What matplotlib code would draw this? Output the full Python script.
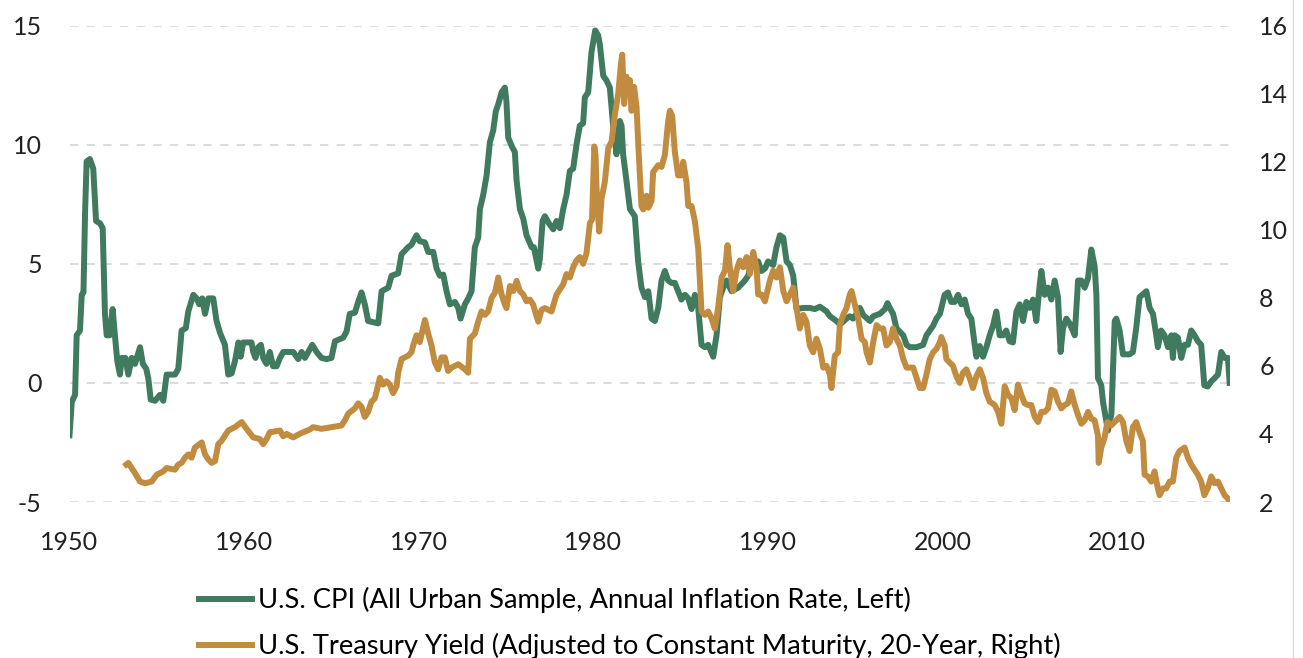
import matplotlib.pyplot as plt
from matplotlib.lines import Line2D

plt.rcParams['font.family'] = ['Lato', 'DejaVu Sans']
plt.rcParams['lines.scale_dashes'] = False

# U.S. CPI, annual inflation rate (%), left axis
cpi_year = [1950.00, 1950.13, 1950.32, 1950.41, 1950.60, 1950.70, 1950.80, 1950.89, 1950.98, 1951.17,
            1951.36, 1951.52, 1951.75, 1951.90, 1952.03, 1952.13, 1952.30, 1952.47, 1952.60, 1952.74,
            1952.89, 1952.99, 1953.20, 1953.37, 1953.56, 1953.75, 1954.04, 1954.20, 1954.39, 1954.51,
            1954.65, 1954.90, 1955.18, 1955.37, 1955.56, 1956.04, 1956.23, 1956.42, 1956.66, 1956.80,
            1957.09, 1957.28, 1957.43, 1957.60, 1957.76, 1957.95, 1958.23, 1958.42, 1958.62, 1958.90,
            1959.09, 1959.28, 1959.47, 1959.67, 1959.80, 1959.95, 1960.42, 1960.52, 1960.65, 1960.81,
            1960.96, 1961.09, 1961.28, 1961.47, 1961.66, 1961.86, 1962.05, 1962.24, 1962.81, 1963.10,
            1963.29, 1963.48, 1963.67, 1963.90, 1964.15, 1964.43, 1964.72, 1965.00, 1965.20, 1965.67,
            1965.86, 1966.05, 1966.34, 1966.53, 1966.72, 1966.91, 1967.10, 1967.68, 1967.87, 1968.25,
            1968.44, 1968.82, 1969.01, 1969.39, 1969.58, 1969.87, 1970.06, 1970.35, 1970.54, 1970.83,
            1971.02, 1971.21, 1971.40, 1971.59, 1971.78, 1972.07, 1972.26, 1972.39, 1972.64, 1972.83,
            1973.02, 1973.21, 1973.40, 1973.50, 1973.69, 1973.88, 1974.07, 1974.26, 1974.41, 1974.55,
            1974.74, 1974.93, 1975.02, 1975.12, 1975.35, 1975.50, 1975.60, 1975.79, 1975.98, 1976.17,
            1976.46, 1976.59, 1976.84, 1976.93, 1977.09, 1977.22, 1977.45, 1977.70, 1977.89, 1978.08,
            1978.27, 1978.46, 1978.65, 1978.84, 1979.03, 1979.22, 1979.41, 1979.51, 1979.70, 1979.89,
            1980.10, 1980.27, 1980.37, 1980.56, 1980.75, 1980.94, 1981.13, 1981.32, 1981.42, 1981.51,
            1981.61, 1981.70, 1981.89, 1982.09, 1982.37, 1982.56, 1982.75, 1982.95, 1983.14, 1983.33,
            1983.52, 1983.71, 1983.90, 1984.09, 1984.28, 1984.47, 1984.66, 1984.85, 1985.04, 1985.24,
            1985.43, 1985.62, 1985.81, 1986.00, 1986.19, 1986.38, 1986.57, 1986.86, 1987.05, 1987.24,
            1987.43, 1987.62, 1987.91, 1988.29, 1988.67, 1988.86, 1989.05, 1989.24, 1989.43, 1989.62,
            1989.82, 1990.00, 1990.29, 1990.48, 1990.68, 1990.87, 1991.06, 1991.25, 1991.44, 1991.53,
            1991.63, 1992.01, 1992.39, 1992.68, 1992.97, 1993.35, 1993.54, 1993.92, 1994.11, 1994.49,
            1994.68, 1994.87, 1995.06, 1995.26, 1995.45, 1995.83, 1996.02, 1996.40, 1996.69, 1996.84,
            1996.97, 1997.16, 1997.35, 1997.74, 1997.93, 1998.12, 1998.50, 1998.88, 1999.07, 1999.45,
            1999.64, 1999.84, 2000.11, 2000.30, 2000.49, 2000.69, 2000.88, 2001.07, 2001.26, 2001.45,
            2001.64, 2001.83, 2001.93, 2002.12, 2002.31, 2002.50, 2002.69, 2002.88, 2003.07, 2003.26,
            2003.45, 2003.64, 2003.83, 2004.02, 2004.22, 2004.41, 2004.60, 2004.79, 2004.98, 2005.17,
            2005.36, 2005.55, 2005.65, 2005.84, 2006.03, 2006.22, 2006.41, 2006.60, 2006.75, 2006.89,
            2007.08, 2007.27, 2007.56, 2007.75, 2007.94, 2008.13, 2008.32, 2008.51, 2008.70, 2008.80,
            2008.89, 2009.08, 2009.18, 2009.37, 2009.46, 2009.66, 2009.85, 2009.94, 2010.13, 2010.32,
            2010.70, 2010.89, 2011.08, 2011.27, 2011.66, 2011.85, 2012.04, 2012.23, 2012.32, 2012.51,
            2012.70, 2012.90, 2013.09, 2013.18, 2013.28, 2013.47, 2013.66, 2013.85, 2014.04, 2014.23,
            2014.42, 2014.61, 2014.80, 2014.98, 2015.17, 2015.38, 2015.57, 2015.76, 2015.95, 2016.14,
            2016.33, 2016.43]
cpi_rate = [-2.2, -0.8, -0.5, 2.0, 2.2, 3.7, 3.8, 7.1, 9.3, 9.4,
            9.0, 6.8, 6.7, 6.5, 2.9, 2.0, 2.0, 3.1, 2.0, 0.9,
            0.35, 1.05, 1.05, 0.35, 1.05, 0.8, 1.5, 0.8, 0.6, 0.2,
            -0.7, -0.75, -0.5, -0.75, 0.35, 0.35, 0.6, 2.2, 2.3, 3.0,
            3.7, 3.55, 3.3, 3.55, 2.9, 3.55, 3.55, 2.6, 2.1, 1.6,
            0.35, 0.4, 0.9, 1.7, 1.1, 1.7, 1.7, 1.3, 1.05, 1.5,
            1.6, 1.05, 0.8, 1.3, 0.7, 0.7, 1.05, 1.3, 1.3, 1.0,
            1.3, 1.05, 1.3, 1.6, 1.3, 1.05, 1.0, 1.05, 1.75, 1.9,
            2.15, 2.9, 2.95, 3.4, 3.8, 3.3, 2.6, 2.5, 3.85, 4.0,
            4.5, 4.6, 5.4, 5.7, 5.8, 6.2, 5.95, 5.9, 5.5, 5.5,
            4.8, 4.5, 4.55, 3.85, 3.3, 3.4, 3.15, 2.7, 3.3, 3.55,
            3.85, 5.7, 6.1, 7.3, 7.9, 8.7, 10.1, 10.6, 11.4, 11.7,
            12.2, 12.4, 11.8, 10.3, 9.9, 9.7, 8.5, 7.3, 6.9, 6.2,
            5.7, 5.7, 4.8, 5.2, 6.8, 7.0, 6.7, 6.45, 6.8, 6.5,
            7.3, 7.9, 8.9, 9.0, 10.0, 10.8, 10.9, 12.0, 12.2, 13.9,
            14.8, 14.6, 14.2, 12.9, 12.7, 12.4, 10.8, 9.6, 10.4, 11.0,
            10.8, 9.6, 8.5, 7.3, 7.0, 5.1, 4.0, 3.6, 3.85, 2.7,
            2.6, 3.15, 4.3, 4.7, 4.3, 4.2, 4.2, 3.85, 3.5, 3.7,
            3.55, 3.1, 3.7, 3.15, 1.6, 1.5, 1.6, 1.1, 2.0, 3.6,
            4.0, 4.3, 3.85, 4.0, 4.3, 4.5, 5.1, 4.95, 5.1, 4.7,
            4.8, 5.1, 4.95, 5.7, 6.2, 6.1, 5.1, 4.95, 4.5, 3.85,
            3.1, 3.15, 3.15, 3.1, 3.2, 3.0, 2.8, 2.6, 2.45, 2.7,
            2.8, 2.7, 2.9, 3.15, 2.85, 2.6, 2.8, 2.9, 3.1, 3.35,
            3.15, 2.9, 2.3, 2.0, 1.6, 1.5, 1.5, 1.6, 2.0, 2.4,
            2.7, 2.9, 3.7, 3.8, 3.4, 3.4, 3.7, 3.3, 3.5, 2.9,
            2.7, 1.6, 1.1, 1.55, 1.1, 1.5, 2.0, 2.4, 3.0, 2.0,
            2.0, 2.2, 1.75, 1.7, 3.0, 3.3, 2.6, 3.4, 3.15, 3.5,
            2.6, 4.1, 4.7, 3.7, 4.0, 3.5, 4.3, 3.6, 1.3, 2.3,
            2.7, 2.5, 2.0, 4.3, 4.3, 4.0, 4.4, 5.6, 4.9, 3.7,
            0.2, -0.1, -0.8, -1.6, -2.0, -1.3, 2.6, 2.7, 2.2, 1.2,
            1.2, 1.3, 2.3, 3.6, 3.85, 3.15, 2.9, 2.0, 1.5, 2.2,
            2.0, 1.5, 2.0, 1.05, 2.0, 1.9, 1.05, 1.6, 1.6, 2.2,
            2.0, 1.75, 1.6, -0.1, -0.15, 0.07, 0.2, 0.35, 1.3, 1.05,
            1.05, 0.0]

# U.S. Treasury yield, 20-year constant maturity (%), right axis
tsy_year = [1953.25, 1953.37, 1953.56, 1953.75, 1954.04, 1954.32, 1954.70, 1954.99, 1955.37, 1955.56,
            1956.04, 1956.23, 1956.42, 1956.61, 1956.80, 1956.99, 1957.18, 1957.57, 1957.76, 1957.95,
            1958.14, 1958.33, 1958.52, 1958.71, 1958.90, 1959.09, 1959.47, 1959.86, 1960.14, 1960.52,
            1960.90, 1961.09, 1961.28, 1961.47, 1962.05, 1962.24, 1962.43, 1962.81, 1963.29, 1963.76,
            1963.95, 1964.43, 1965.00, 1965.58, 1965.77, 1965.96, 1966.34, 1966.53, 1966.72, 1966.91,
            1967.10, 1967.29, 1967.49, 1967.77, 1967.96, 1968.15, 1968.34, 1968.53, 1968.73, 1968.82,
            1969.01, 1969.39, 1969.58, 1969.68, 1969.87, 1970.06, 1970.35, 1970.54, 1970.73, 1970.92,
            1971.11, 1971.30, 1971.49, 1971.68, 1971.88, 1972.26, 1972.64, 1972.83, 1972.93, 1973.21,
            1973.40, 1973.59, 1973.78, 1973.97, 1974.17, 1974.36, 1974.55, 1974.74, 1974.93, 1975.02,
            1975.22, 1975.41, 1975.60, 1975.79, 1975.98, 1976.17, 1976.36, 1976.55, 1976.84, 1977.03,
            1977.22, 1977.60, 1977.89, 1978.27, 1978.46, 1978.65, 1978.84, 1979.03, 1979.22, 1979.41,
            1979.60, 1979.80, 1979.92, 1980.05, 1980.12, 1980.20, 1980.33, 1980.46, 1980.65, 1980.85,
            1981.04, 1981.23, 1981.42, 1981.57, 1981.65, 1981.76, 1981.90, 1981.99, 1982.09, 1982.18,
            1982.33, 1982.47, 1982.56, 1982.75, 1982.85, 1983.04, 1983.14, 1983.33, 1983.42, 1983.71,
            1983.90, 1984.09, 1984.28, 1984.38, 1984.51, 1984.66, 1984.85, 1985.04, 1985.14, 1985.33,
            1985.43, 1985.62, 1985.81, 1986.00, 1986.19, 1986.38, 1986.57, 1986.76, 1986.95, 1987.14,
            1987.34, 1987.53, 1987.68, 1987.81, 1988.00, 1988.19, 1988.38, 1988.58, 1988.77, 1988.96,
            1989.15, 1989.34, 1989.43, 1989.62, 1989.82, 1990.10, 1990.29, 1990.48, 1990.68, 1990.87,
            1991.06, 1991.25, 1991.44, 1991.63, 1991.82, 1992.01, 1992.20, 1992.39, 1992.58, 1992.77,
            1992.97, 1993.16, 1993.35, 1993.54, 1993.63, 1993.82, 1994.01, 1994.11, 1994.30, 1994.49,
            1994.68, 1994.78, 1994.97, 1995.16, 1995.35, 1995.54, 1995.64, 1995.83, 1996.02, 1996.21,
            1996.40, 1996.59, 1996.78, 1996.97, 1997.16, 1997.35, 1997.55, 1997.74, 1997.93, 1998.12,
            1998.31, 1998.50, 1998.69, 1998.88, 1999.07, 1999.26, 1999.45, 1999.64, 1999.84, 1999.92,
            2000.11, 2000.21, 2000.40, 2000.59, 2000.78, 2000.97, 2001.16, 2001.35, 2001.54, 2001.73,
            2001.93, 2002.12, 2002.31, 2002.50, 2002.69, 2002.98, 2003.17, 2003.36, 2003.55, 2003.74,
            2003.93, 2004.12, 2004.31, 2004.50, 2004.69, 2004.88, 2005.07, 2005.27, 2005.46, 2005.65,
            2005.84, 2006.03, 2006.22, 2006.41, 2006.60, 2006.79, 2006.98, 2007.17, 2007.36, 2007.56,
            2007.75, 2007.94, 2008.13, 2008.32, 2008.51, 2008.70, 2008.89, 2008.93, 2009.08, 2009.27,
            2009.43, 2009.65, 2009.84, 2010.13, 2010.32, 2010.51, 2010.70, 2010.89, 2011.08, 2011.27,
            2011.46, 2011.56, 2011.75, 2011.94, 2012.13, 2012.32, 2012.42, 2012.61, 2012.80, 2012.99,
            2013.18, 2013.37, 2013.56, 2013.85, 2014.04, 2014.23, 2014.42, 2014.61, 2014.80, 2014.98,
            2015.17, 2015.38, 2015.57, 2015.76, 2015.95, 2016.14, 2016.33, 2016.43]
tsy_yield = [3.1, 3.15, 3.0, 2.85, 2.6, 2.55, 2.6, 2.8, 2.9, 3.0,
             2.95, 3.1, 3.15, 3.3, 3.4, 3.3, 3.6, 3.75, 3.4, 3.25,
             3.15, 3.2, 3.7, 3.8, 3.95, 4.1, 4.2, 4.35, 4.15, 3.9,
             3.85, 3.7, 3.85, 4.05, 4.1, 3.93, 4.0, 3.9, 4.03, 4.13,
             4.2, 4.15, 4.2, 4.25, 4.4, 4.6, 4.75, 4.9, 4.8, 4.5,
             4.65, 4.95, 5.05, 5.65, 5.45, 5.55, 5.45, 5.2, 5.4, 5.8,
             6.2, 6.3, 6.4, 6.6, 6.9, 6.7, 7.35, 6.95, 6.6, 6.1,
             5.9, 6.25, 6.25, 5.85, 5.95, 6.05, 5.9, 5.8, 6.8, 6.95,
             7.3, 7.6, 7.5, 7.6, 8.0, 8.15, 8.6, 8.1, 7.8, 7.7,
             8.35, 8.2, 8.5, 8.2, 8.1, 7.9, 7.95, 7.8, 7.3, 7.65,
             7.7, 7.6, 8.1, 8.4, 8.7, 8.6, 8.9, 9.1, 9.2, 9.0,
             9.3, 10.2, 10.3, 12.45, 12.2, 10.9, 9.95, 10.9, 11.4, 12.4,
             12.6, 13.4, 14.0, 14.85, 15.15, 13.7, 14.5, 14.0, 14.4, 13.5,
             14.2, 13.6, 12.6, 10.7, 10.6, 11.0, 10.65, 10.85, 11.7, 11.9,
             11.85, 12.2, 13.2, 13.5, 13.35, 12.3, 11.6, 11.6, 12.0, 11.4,
             10.7, 10.7, 10.25, 9.45, 7.6, 7.5, 7.6, 7.4, 7.1, 7.7,
             8.6, 8.8, 9.55, 8.9, 8.2, 8.8, 9.1, 8.9, 9.2, 8.7,
             9.35, 8.9, 8.1, 8.1, 7.9, 8.5, 8.8, 8.6, 8.9, 8.2,
             7.9, 8.1, 8.3, 7.7, 7.1, 7.5, 7.3, 6.6, 6.4, 6.8,
             6.5, 5.95, 6.0, 5.75, 5.35, 6.3, 6.4, 7.2, 7.5, 7.7,
             8.1, 8.2, 7.8, 7.4, 6.8, 6.7, 6.4, 6.1, 6.7, 7.2,
             7.1, 7.1, 6.6, 6.7, 7.1, 6.8, 6.6, 6.2, 5.95, 5.95,
             5.95, 5.65, 5.35, 5.35, 5.75, 6.2, 6.4, 6.5, 6.7, 6.85,
             6.6, 6.2, 6.1, 6.0, 5.7, 5.5, 5.8, 5.9, 5.65, 5.35,
             5.7, 5.9, 5.65, 5.2, 4.95, 4.85, 4.65, 4.3, 5.4, 5.15,
             5.05, 4.7, 5.45, 5.15, 4.9, 4.85, 4.85, 4.5, 4.35, 4.65,
             4.65, 4.75, 5.3, 5.25, 4.95, 4.75, 4.85, 4.9, 5.25, 4.85,
             4.55, 4.3, 4.4, 4.65, 4.45, 4.4, 3.95, 3.15, 3.6, 3.9,
             4.35, 4.25, 4.35, 4.5, 4.35, 3.8, 3.5, 4.2, 4.35, 4.05,
             3.8, 2.8, 2.75, 2.6, 2.9, 2.4, 2.2, 2.4, 2.4, 2.6,
             2.6, 3.3, 3.5, 3.6, 3.3, 3.1, 2.95, 2.8, 2.6, 2.2,
             2.4, 2.75, 2.55, 2.6, 2.4, 2.2, 2.1, 2.0]

year_ticks = [1950, 1960, 1970, 1980, 1990, 2000, 2010]
left_ticks = [-5, 0, 5, 10, 15]
right_ticks = [2, 4, 6, 8, 10, 12, 14, 16]
labels = ['U.S. CPI (All Urban Sample, Annual Inflation Rate, Left)',
          'U.S. Treasury Yield (Adjusted to Constant Maturity, 20-Year, Right)']

green = '#407a5f'
gold = '#c18c40'
W, H = 1303, 658

fig = plt.figure(figsize=(W / 100, H / 100), dpi=100)
left, right, top, bottom = 69.5, 1230, 25.7, 502
ax = fig.add_axes([left / W, 1 - bottom / H, (right - left) / W, (bottom - top) / H])
ax2 = ax.twinx()

ax.plot(cpi_year, cpi_rate, color=green, lw=4.3, solid_joinstyle='round')
ax2.plot(tsy_year, tsy_yield, color=gold, lw=4.3, solid_joinstyle='round')

ax.set_xlim(1950, 2016.45)
ax.set_ylim(-5, 15)
ax2.set_ylim(2, 16)
ax.set_xticks(year_ticks)
ax.set_yticks(left_ticks)
ax2.set_yticks(right_ticks)
ax.set_yticklabels([str(v) for v in left_ticks])

ax.yaxis.grid(True, color='#d9d9d9', lw=1.3, ls=(0, (6, 6)))
ax.set_axisbelow(True)
for a in (ax, ax2):
    for s in a.spines.values():
        s.set_visible(False)
ax.tick_params(axis='y', length=0, labelsize=18, pad=20, colors='#222222')
ax.tick_params(axis='x', length=0, labelsize=18, pad=21, colors='#222222')
ax2.tick_params(axis='y', length=0, labelsize=18, pad=21, colors='#222222')

handles = [Line2D([], [], color=green, lw=4.3), Line2D([], [], color=gold, lw=4.3)]
fig.legend(handles, labels, loc='upper left', bbox_to_anchor=(199 / W, 1 - 587 / H),
           frameon=False, fontsize=19.7, handlelength=1.95, handletextpad=0.2,
           labelspacing=0.74, borderpad=0, borderaxespad=0)

# thin border at the right edge of the chart area
fig.add_artist(Line2D([1292.5 / W] * 2, [0, 1], color='#d9d9d9', lw=1, transform=fig.transFigure))

fig.savefig('out.png', dpi=100)
